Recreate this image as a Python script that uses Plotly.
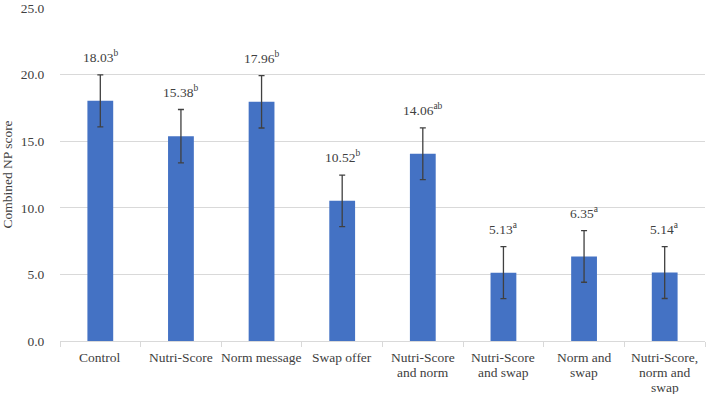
import plotly.graph_objects as go

categories = ["Control", "Nutri-Score", "Norm message", "Swap offer",
              "Nutri-Score and norm", "Nutri-Score and swap",
              "Norm and swap", "Nutri-Score, norm and swap"]
category_lines = [["Control"], ["Nutri-Score"], ["Norm message"], ["Swap offer"],
                  ["Nutri-Score", "and norm"], ["Nutri-Score", "and swap"],
                  ["Norm and", "swap"], ["Nutri-Score,", "norm and", "swap"]]
values = [18.03, 15.38, 17.96, 10.52, 14.06, 5.13, 6.35, 5.14]
errors = [1.95, 2.0, 1.97, 1.94, 1.94, 1.95, 1.94, 1.95]
letters = ["b", "b", "b", "b", "ab", "a", "a", "a"]
y_ticks = [0, 5, 10, 15, 20, 25]
y_tick_labels = ["0.0", "5.0", "10.0", "15.0", "20.0", "25.0"]

font_family = "Liberation Serif"
text_color = "#404040"
fs = 13.5

fig = go.Figure()
fig.add_trace(go.Bar(
    x=categories, y=values,
    marker=dict(color="#4472C4", line=dict(width=0)),
    width=0.32,
    error_y=dict(type="data", array=errors, visible=True,
                 color="#404040", thickness=1.3, width=3),
))

for c, v, e, l in zip(categories, values, errors, letters):
    fig.add_annotation(
        x=c, y=v + e, text=f"{v:.2f}<sup>{l}</sup>",
        showarrow=False, yanchor="bottom", yshift=8,
        font=dict(family=font_family, size=fs, color=text_color),
    )

for c, lines in zip(categories, category_lines):
    for i, line in enumerate(lines):
        fig.add_annotation(
            x=c, xref="x", y=0, yref="paper", text=line,
            showarrow=False, yanchor="middle", yshift=-(16 + 15 * i),
            font=dict(family=font_family, size=fs, color=text_color),
        )

fig.update_layout(
    width=712, height=394,
    margin=dict(l=60, r=7, t=8, b=53),
    paper_bgcolor="white", plot_bgcolor="white",
    showlegend=False,
    font=dict(family=font_family, size=fs, color=text_color),
)
fig.update_xaxes(
    showline=True, linecolor="#d9d9d9", linewidth=1,
    ticks="outside", tickson="boundaries", ticklen=5, tickcolor="#d9d9d9",
    showticklabels=False, automargin=False,
    showgrid=False,
)
fig.update_yaxes(
    range=[0, 25], tickvals=y_ticks, ticktext=y_tick_labels,
    showgrid=True, gridcolor="#d9d9d9", gridwidth=1,
    zeroline=False, showline=False, automargin=False,
    ticks="outside", ticklen=12, tickcolor="rgba(0,0,0,0)",
    tickfont=dict(family=font_family, size=fs, color=text_color),
    title=dict(text="Combined NP score", standoff=10,
               font=dict(family=font_family, size=fs, color=text_color)),
)

fig.write_html("out.html", config={"displayModeBar": False},
               post_script="document.body.style.margin='0';document.body.style.overflow='hidden';")
